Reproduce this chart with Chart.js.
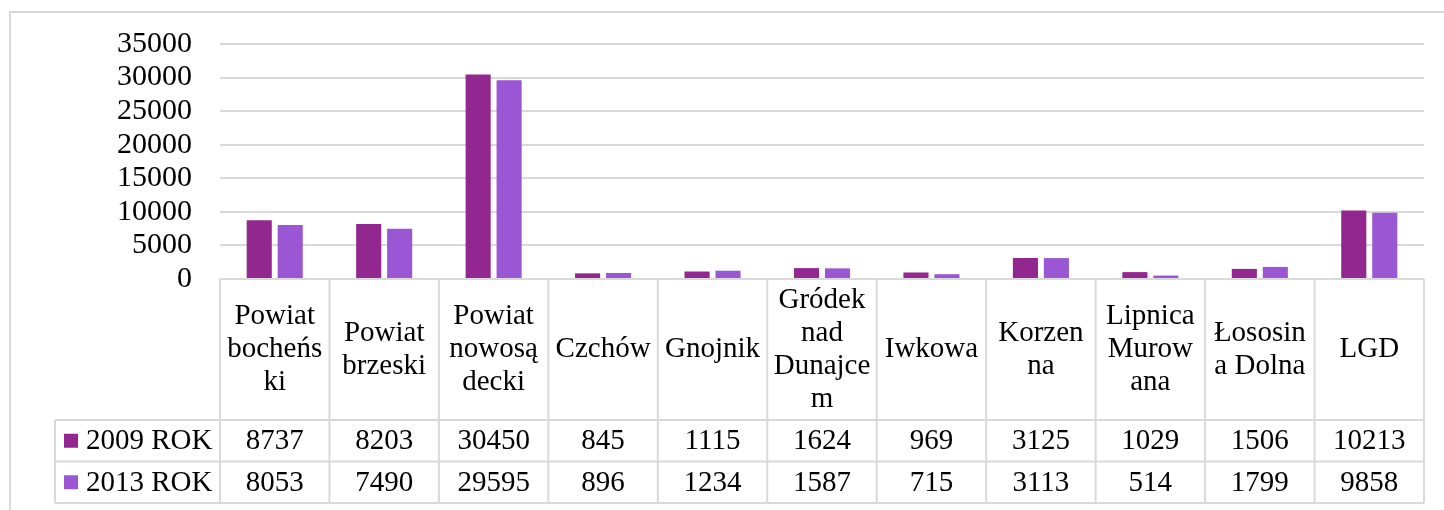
<!DOCTYPE html>
<html>
<head>
<meta charset="utf-8">
<script src="https://cdn.jsdelivr.net/npm/chart.js@4/dist/chart.umd.min.js"></script>
<style>
  html, body { margin: 0; padding: 0; background: #fff; }
  #wrap { width: 1444px; height: 510px; position: relative; }
</style>
</head>
<body>
<div id="wrap"><canvas id="chartCanvas" width="1444" height="510"></canvas></div>
<script>
// data
var categories = [
  ["Powiat", "bocheńs", "ki"],
  ["Powiat", "brzeski"],
  ["Powiat", "nowosą", "decki"],
  ["Czchów"],
  ["Gnojnik"],
  ["Gródek", "nad", "Dunajce", "m"],
  ["Iwkowa"],
  ["Korzen", "na"],
  ["Lipnica", "Murow", "ana"],
  ["Łososin", "a Dolna"],
  ["LGD"]
];
var seriesNames = ["2009 ROK", "2013 ROK"];
var values2009 = [8737, 8203, 30450, 845, 1115, 1624, 969, 3125, 1029, 1506, 10213];
var values2013 = [8053, 7490, 29595, 896, 1234, 1587, 715, 3113, 514, 1799, 9858];
var yMax = 35000;
var yStep = 5000;

var colors = ["#92278F", "#9B57D3"];
var gridColor = "#d9d9d9";
var fontFamily = "'Liberation Serif', 'Times New Roman', serif";

// draws the outer frame and the data table under the plot
var tablePlugin = {
  id: 'dataTable',
  beforeDraw: function(chart) {
    var c = chart.ctx;
    c.save();
    c.strokeStyle = gridColor;
    c.lineWidth = 2;
    c.beginPath();
    c.moveTo(10, 510);
    c.lineTo(10, 12);
    c.lineTo(1444, 12);
    c.stroke();
    c.restore();
  },
  afterDraw: function(chart) {
    var c = chart.ctx;
    var area = chart.chartArea;
    var xs = chart.scales.x;
    var n = categories.length;
    var colW = (area.right - area.left) / n;
    var top = area.bottom;
    var headBottom = 420;
    var rowH = 41.5;
    var legendLeft = 55;
    var bottom = headBottom + rowH * 2;

    c.save();
    c.strokeStyle = gridColor;
    c.lineWidth = 2;
    c.beginPath();
    // vertical lines of category columns
    for (var i = 0; i <= n; i++) {
      var x = area.left + i * colW;
      c.moveTo(x, top);
      c.lineTo(x, bottom);
    }
    // legend column
    c.moveTo(legendLeft, headBottom);
    c.lineTo(legendLeft, bottom);
    c.moveTo(legendLeft, headBottom);
    c.lineTo(area.right, headBottom);
    c.moveTo(legendLeft, headBottom + rowH);
    c.lineTo(area.right, headBottom + rowH);
    c.moveTo(legendLeft, bottom);
    c.lineTo(area.right, bottom);
    c.stroke();

    c.fillStyle = '#000';
    c.font = '29px ' + fontFamily;
    c.textAlign = 'center';
    c.textBaseline = 'middle';

    // category header
    var lineH = 33;
    var headMid = (top + headBottom) / 2;
    categories.forEach(function(lines, i) {
      var cx = xs.getPixelForValue(i);
      var y0 = headMid - (lines.length - 1) * lineH / 2;
      lines.forEach(function(t, k) {
        c.fillText(t, cx, y0 + k * lineH);
      });
    });

    // value rows
    var rows = [values2009, values2013];
    rows.forEach(function(vals, r) {
      var cy = headBottom + rowH * r + rowH / 2 + 1;
      vals.forEach(function(v, i) {
        c.fillText(String(v), xs.getPixelForValue(i), cy);
      });
      c.fillStyle = colors[r];
      c.fillRect(64, cy - 8, 14, 14);
      c.fillStyle = '#000';
      c.textAlign = 'left';
      c.fillText(seriesNames[r], 86, cy);
      c.textAlign = 'center';
    });
    c.restore();
  }
};

var ctx = document.getElementById("chartCanvas");
var myChart = new Chart(ctx, {
  type: 'bar',
  data: {
    labels: categories.map(function(l) { return l.join(' '); }),
    datasets: [{
      label: seriesNames[0],
      data: values2009,
      backgroundColor: colors[0],
      barPercentage: 0.81,
      categoryPercentage: 0.566
    },
    {
      label: seriesNames[1],
      data: values2013,
      backgroundColor: colors[1],
      barPercentage: 0.81,
      categoryPercentage: 0.566
    }]
  },
  options: {
    responsive: false,
    animation: false,
    layout: {
      padding: { left: 0, top: 44, right: 20, bottom: 231 }
    },
    scales: {
      x: {
        display: false
      },
      y: {
        min: 0,
        max: yMax,
        afterFit: function(scale) { scale.width = 220; },
        border: { display: false },
        grid: { color: gridColor, lineWidth: 2, drawTicks: false },
        ticks: {
          stepSize: yStep,
          autoSkip: false,
          padding: 28,
          color: '#000',
          font: { family: fontFamily, size: 30, lineHeight: 1 },
          callback: function(v) { return String(v); }
        }
      }
    },
    plugins: {
      legend: { display: false },
      tooltip: { enabled: false }
    }
  },
  plugins: [tablePlugin]
});
</script>
</body>
</html>
